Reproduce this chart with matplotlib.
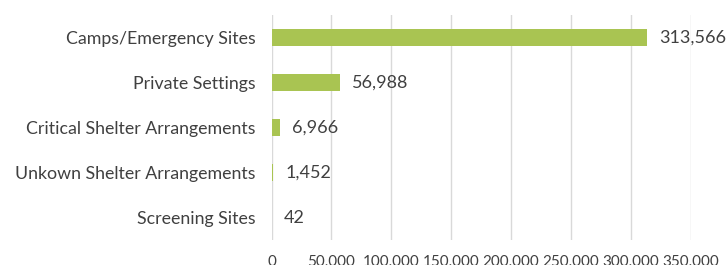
import matplotlib
matplotlib.use("Agg")
import matplotlib.pyplot as plt

categories = ["Camps/Emergency Sites", "Private Settings", "Critical Shelter Arrangements",
              "Unkown Shelter Arrangements", "Screening Sites"]
values = [313566, 56988, 6966, 1452, 42]
ticks = [0, 50000, 100000, 150000, 200000, 250000, 300000, 350000]

plt.rcParams['font.family'] = ['Lato', 'DejaVu Sans']
fig = plt.figure(figsize=(7.27, 2.65), dpi=100)
ax = fig.add_axes([0.3735, 0.0943, 0.5763, 0.8491])
ypos = list(range(len(categories)))
ax.barh(ypos, values, height=0.36, color="#A9C452", zorder=3)
ax.set_ylim(4.5, -0.5)
ax.set_xlim(0, 350000)
ax.set_xticks(ticks)
ax.set_xticklabels([f"{t:,}" for t in ticks], fontsize=11, color="#404040")
ax.set_yticks(ypos)
ax.set_yticklabels(categories, fontsize=12.8, color="#404040")
ax.tick_params(axis='both', length=0)
ax.tick_params(axis='x', pad=11)
ax.tick_params(axis='y', pad=11.5)
ax.grid(axis='x', color="#D9D9D9", linewidth=1, zorder=0)
for s in ax.spines.values():
    s.set_visible(False)
for y, v in zip(ypos, values):
    ax.text(v + 10500, y, f"{v:,}", va='center', ha='left', fontsize=13, color="#404040")
fig.savefig("out.png", dpi=100)
